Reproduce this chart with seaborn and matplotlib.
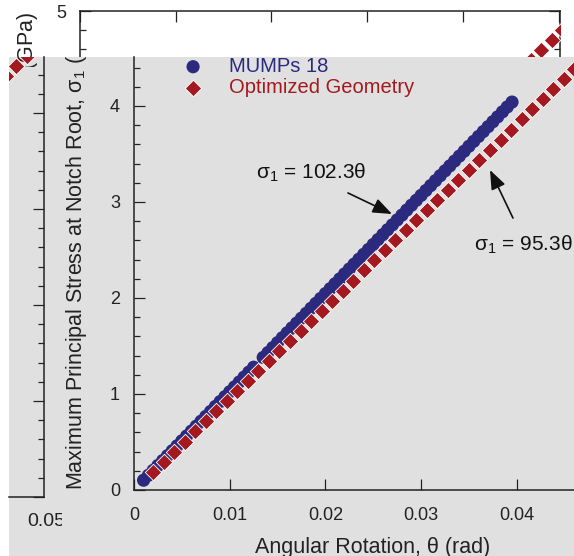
import numpy as np
import pandas as pd
import matplotlib
matplotlib.use("Agg")
import matplotlib.pyplot as plt
import seaborn as sns
from matplotlib.ticker import MultipleLocator, FixedLocator, FixedFormatter
from matplotlib.patches import Rectangle
from matplotlib.transforms import Bbox, TransformedBbox

# ---------------- data ----------------
mumps_theta = [0.0010, 0.0015, 0.0020, 0.0025, 0.0030, 0.0035, 0.0040, 0.0045, 0.0050, 0.0055,
               0.0060, 0.0065, 0.0070, 0.0075, 0.0080, 0.0085, 0.0090, 0.0095, 0.0100, 0.0105,
               0.0110, 0.0115, 0.0120, 0.0125, 0.0135, 0.0140, 0.0145, 0.0150, 0.0155, 0.0160,
               0.0165, 0.0170, 0.0175, 0.0180, 0.0185, 0.0190, 0.0195, 0.0200, 0.0205, 0.0210,
               0.0215, 0.0220, 0.0225, 0.0230, 0.0235, 0.0240, 0.0245, 0.0250, 0.0255, 0.0260,
               0.0265, 0.0270, 0.0275, 0.0280, 0.0285, 0.0290, 0.0295, 0.0300, 0.0305, 0.0310,
               0.0315, 0.0320, 0.0325, 0.0330, 0.0335, 0.0340, 0.0345, 0.0350, 0.0355, 0.0360,
               0.0365, 0.0370, 0.0375, 0.0380, 0.0385, 0.0390, 0.0395]
mumps_sigma = [0.102, 0.153, 0.205, 0.256, 0.307, 0.358, 0.409, 0.460, 0.512, 0.563,
               0.614, 0.665, 0.716, 0.767, 0.818, 0.870, 0.921, 0.972, 1.023, 1.074,
               1.125, 1.176, 1.228, 1.279, 1.381, 1.432, 1.483, 1.535, 1.586, 1.637,
               1.688, 1.739, 1.790, 1.841, 1.893, 1.944, 1.995, 2.046, 2.097, 2.148,
               2.199, 2.251, 2.302, 2.353, 2.404, 2.455, 2.506, 2.558, 2.609, 2.660,
               2.711, 2.762, 2.813, 2.864, 2.916, 2.967, 3.018, 3.069, 3.120, 3.171,
               3.222, 3.274, 3.325, 3.376, 3.427, 3.478, 3.529, 3.581, 3.632, 3.683,
               3.734, 3.785, 3.836, 3.887, 3.939, 3.990, 4.041]

opt_theta = [0.0020, 0.0031, 0.0042, 0.0053, 0.0064, 0.0075, 0.0086, 0.0097, 0.0108, 0.0119,
             0.0130, 0.0141, 0.0152, 0.0163, 0.0174, 0.0185, 0.0196, 0.0207, 0.0218, 0.0229,
             0.0240, 0.0251, 0.0262, 0.0273, 0.0284, 0.0295, 0.0306, 0.0317, 0.0328, 0.0339,
             0.0350, 0.0361, 0.0372, 0.0383, 0.0394, 0.0405, 0.0416, 0.0427, 0.0438, 0.0449,
             0.0460, 0.0471, 0.0482, 0.0493, 0.0504]
opt_sigma = [0.191, 0.295, 0.400, 0.505, 0.610, 0.715, 0.820, 0.924, 1.029, 1.134,
             1.239, 1.344, 1.449, 1.553, 1.658, 1.763, 1.868, 1.973, 2.078, 2.182,
             2.287, 2.392, 2.497, 2.602, 2.707, 2.811, 2.916, 3.021, 3.126, 3.231,
             3.336, 3.440, 3.545, 3.650, 3.755, 3.860, 3.964, 4.069, 4.174, 4.279,
             4.384, 4.489, 4.593, 4.698, 4.803]

series_names = ["MUMPs 18", "Optimized Geometry"]
xtick_values = [0, 0.01, 0.02, 0.03, 0.04]
xtick_labels = ["0", "0.01", "0.02", "0.03", "0.04"]
ytick_values = [0, 1, 2, 3, 4]
ytick_labels = ["0", "1", "2", "3", "4"]
fit_labels = ["\u03c3$_{1}$ = 102.3\u03b8", "\u03c3$_{1}$ = 95.3\u03b8"]

df_mumps = pd.DataFrame({"theta": mumps_theta, "sigma": mumps_sigma, "series": series_names[0]})
df_opt = pd.DataFrame({"theta": opt_theta, "sigma": opt_sigma, "series": series_names[1]})

# ---------------- style ----------------
sns.set_theme(style="ticks")
plt.rcParams["font.family"] = ["Liberation Sans", "DejaVu Sans"]
plt.rcParams["mathtext.fontset"] = "custom"
plt.rcParams["mathtext.rm"] = "Liberation Sans"
plt.rcParams["mathtext.it"] = "Liberation Sans"
plt.rcParams["mathtext.bf"] = "Liberation Sans:bold"

BLUE = "#2b2a7f"
RED = "#a3191f"
GRAY = "#dfe0df"
INK = "#222222"

W, H = 574, 556
fig = plt.figure(figsize=(W / 100, H / 100), dpi=100, facecolor="white")


def rect(l, t, r, b):
    return [l / W, 1 - b / H, (r - l) / W, (b - t) / H]


def draw_series(ax):
    sns.scatterplot(data=df_mumps, x="theta", y="sigma", color=BLUE, marker="o", s=90,
                    edgecolor="none", linewidth=0, ax=ax, legend=False, zorder=3)
    sns.scatterplot(data=df_opt, x="theta", y="sigma", color=RED, marker="D", s=70,
                    edgecolor="white", linewidth=0.6, ax=ax, legend=False, zorder=4)
    ax.set(xlabel="", ylabel="")


def style_ticks(ax, **kw):
    ax.tick_params(axis="both", which="major", direction="in", length=8, width=0.9,
                   color=INK, labelsize=13, labelcolor=INK, **kw)
    ax.tick_params(axis="both", which="minor", direction="in", length=4.5, width=0.9,
                   color=INK, **kw)
    for s in ax.spines.values():
        s.set_color(INK)
        s.set_linewidth(1.1)


# ---------- background figure (partially visible) ----------
axb = fig.add_axes(rect(80, 11, 560, 491), zorder=0)
axb.set_facecolor("white")
draw_series(axb)
axb.set_xlim(0, 480 / 9570)
axb.set_ylim(0, 5)
axb.xaxis.set_major_locator(MultipleLocator(0.01))
axb.yaxis.set_major_locator(FixedLocator([5]))
axb.yaxis.set_major_formatter(FixedFormatter(["5"]))
axb.yaxis.set_minor_locator(MultipleLocator(0.2))
style_ticks(axb, top=True, right=True)
axb.tick_params(axis="x", labelbottom=False)
axb.tick_params(axis="y", pad=10)
back_lab = fig.text(33 / W, 1 - 12 / H, "Maximum Principal Stress at Notch Root, \u03c3$_{1}$ (GPa)",
                    rotation=90, rotation_mode="anchor", ha="right", va="baseline",
                    fontsize=15.5, color=INK, zorder=1.5)
back_lab.set_clip_box(TransformedBbox(Bbox.from_extents(0, 1 - 67 / H, 40 / W, 1), fig.transFigure))

# ---------- gray overlaid figure ----------
fig.add_artist(Rectangle((9 / W, 0), (W - 9) / W, 1 - 57 / H, transform=fig.transFigure,
                         facecolor=GRAY, edgecolor="none", zorder=1))

# left strip: right edge of a neighbouring copy of the chart
axl = fig.add_axes(rect(9, 57, 44, 497), zorder=2)
axl.set_facecolor("none")
draw_series(axl)
axl.set_xlim(0.05 - 35 / 9570, 0.05)
axl.set_ylim(0, 440 / 96)
axl.spines["left"].set_visible(False)
axl.spines["top"].set_visible(False)
axl.yaxis.tick_right()
axl.yaxis.set_major_locator(MultipleLocator(1))
axl.yaxis.set_minor_locator(MultipleLocator(0.2))
axl.set_xticks([])
style_ticks(axl, labelright=False, labelleft=False)
t005 = fig.text(46 / W, 1 - 521 / H, "0.05", ha="center", va="center", fontsize=14,
                color=INK, zorder=3)
t005.set_clip_box(TransformedBbox(Bbox.from_extents(0, 0, 62 / W, 1), fig.transFigure))

# main chart
ax = fig.add_axes(rect(134, 57, W, 490), zorder=3)
ax.set_facecolor("none")
draw_series(ax)
ax.set_xlim(0, 440 / 9570)
ax.set_ylim(0, 433 / 96)
ax.spines["top"].set_visible(False)
ax.spines["right"].set_visible(False)
ax.set_xticks(xtick_values)
ax.set_xticklabels(xtick_labels)
ax.set_yticks(ytick_values)
ax.set_yticklabels(ytick_labels)
ax.yaxis.set_minor_locator(MultipleLocator(0.2))
style_ticks(ax)
ax.tick_params(axis="x", pad=12)
ax.tick_params(axis="y", pad=10)

ylab = fig.text(82 / W, 1 - 490 / H, "Maximum Principal Stress at Notch Root, \u03c3$_{1}$ (GPa)",
                rotation=90, rotation_mode="anchor", ha="left", va="baseline",
                fontsize=15.5, color=INK, zorder=3)
ylab.set_clip_box(TransformedBbox(Bbox.from_extents(9 / W, 0, 1, 1 - 57 / H), fig.transFigure))
fig.text(373 / W, 1 - 537 / H, "Angular Rotation, \u03b8 (rad)", ha="center", va="top",
         fontsize=15.5, color=INK, zorder=3)

# legend
fs_leg = 14.5
handles = [ax.collections[0], ax.collections[1]]
leg = ax.legend(handles, series_names, loc="upper left",
                bbox_to_anchor=(183 / W, 1 - 57 / H), bbox_transform=fig.transFigure,
                frameon=False, fontsize=fs_leg, handlelength=1.0, handletextpad=1.3,
                labelspacing=0.12, borderpad=0, borderaxespad=0, labelcolor=[BLUE, RED])

# fit annotations
ax.text(0.0185, 3.30, fit_labels[0], ha="center", va="center", fontsize=15, color="#111111")
ax.annotate("", xy=(0.02696, 2.875), xytext=(0.02236, 3.094),
            arrowprops=dict(arrowstyle="-|>,head_length=0.9,head_width=0.35", color="#111111",
                            lw=1.2, shrinkA=0, shrinkB=0, mutation_scale=13))
ax.text(0.04065, 2.55, fit_labels[1], ha="center", va="center", fontsize=15, color="#111111",
        clip_on=False)
ax.annotate("", xy=(0.0372, 3.333), xytext=(0.0396, 2.833),
            arrowprops=dict(arrowstyle="-|>,head_length=0.9,head_width=0.35", color="#111111",
                            lw=1.2, shrinkA=0, shrinkB=0, mutation_scale=13))

fig.savefig("out.png", dpi=100, facecolor="white")
